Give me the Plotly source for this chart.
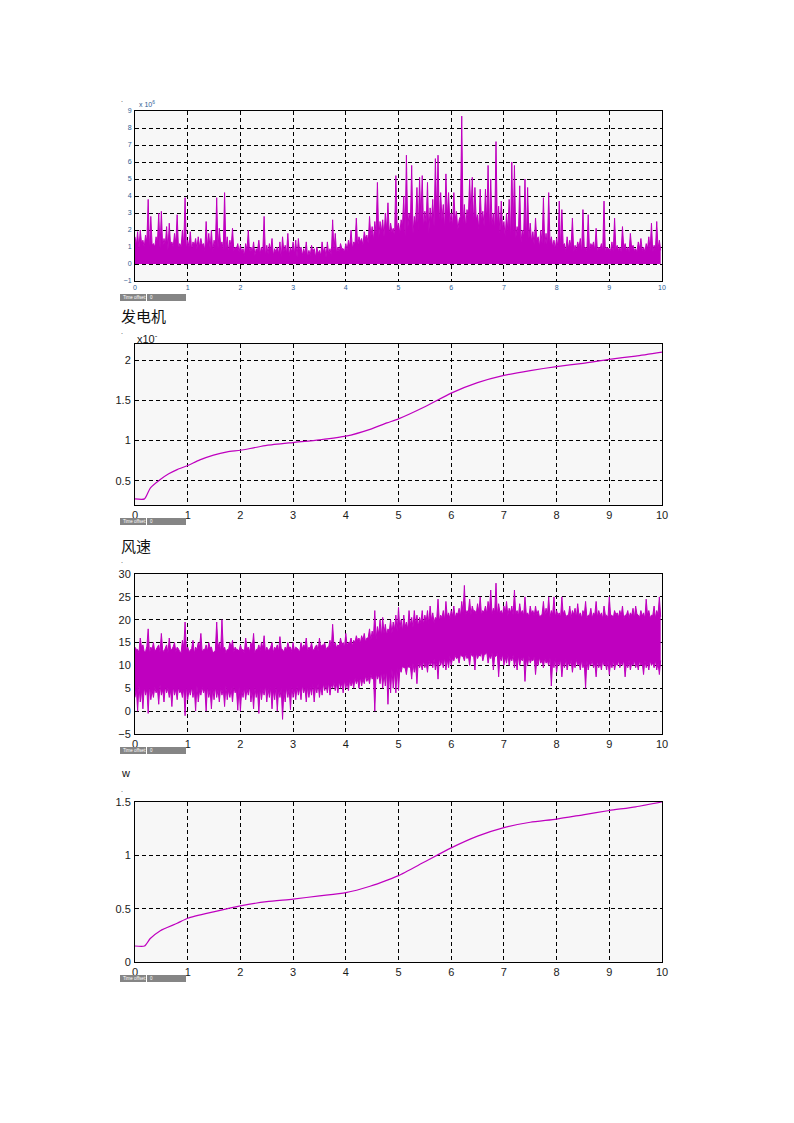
import numpy as np
import plotly.graph_objects as go

W, H = 794, 1123
MAGENTA = "#BF00BF"
PLOT_BG = "#F7F7F7"
TICK_BLUE = "#2A5D95"
TEXT = "#1A1A1A"

# power: spike peaks and the solid band level between them, one pair every 0.05 s
power_peaks = [
    1.6, 1.9, 2.0, 1.4, 1.7, 3.8, 2.8, 1.2, 1.6, 3.0, 3.1, 1.5, 2.2, 2.4, 1.3, 1.8, 2.9, 1.2, 2.0, 3.9,
    1.4, 1.9, 1.3, 1.5, 1.6, 1.5, 1.2, 2.5, 1.8, 2.0, 1.4, 3.9, 2.1, 1.3, 4.2, 1.6, 1.4, 2.1, 1.0, 1.2,
    1.1, 0.9, 1.2, 2.0, 1.0, 1.3, 0.9, 1.4, 1.0, 2.8, 1.1, 1.2, 1.5, 0.9, 1.0, 1.3, 1.6, 1.1, 1.8, 1.0,
    1.3, 1.4, 1.5, 1.0, 0.9, 1.3, 0.8, 1.1, 0.9, 1.0, 0.8, 1.3, 1.0, 1.3, 0.9, 2.6, 1.8, 1.0, 1.2, 0.9,
    1.2, 1.4, 2.0, 1.3, 2.7, 1.6, 1.5, 1.9, 1.7, 2.8, 2.2, 2.5, 4.8, 2.5, 2.6, 3.0, 3.6, 2.4, 2.1, 5.2,
    2.4, 2.6, 4.0, 6.4, 3.0, 5.8, 2.8, 4.5, 5.1, 5.2, 3.1, 4.8, 3.3, 3.8, 6.2, 6.4, 4.2, 3.5, 5.3, 4.2,
    3.0, 4.2, 3.1, 2.6, 8.7, 3.5, 3.2, 5.0, 5.1, 4.5, 2.9, 4.4, 3.1, 4.4, 5.8, 5.0, 3.0, 7.2, 3.4, 3.7,
    2.5, 3.0, 3.8, 6.0, 5.8, 2.2, 4.6, 2.0, 5.0, 4.5, 2.4, 1.9, 2.7, 1.6, 2.0, 3.9, 1.8, 4.2, 1.6, 1.4,
    1.5, 3.7, 3.2, 1.2, 1.6, 1.4, 2.7, 1.1, 1.3, 1.5, 3.2, 1.0, 2.9, 1.2, 1.3, 2.1, 1.0, 1.2, 3.7, 1.0,
    0.9, 1.3, 2.7, 1.1, 1.0, 2.2, 1.2, 1.0, 1.8, 1.1, 0.9, 1.3, 1.5, 1.0, 1.2, 1.6, 2.4, 1.1, 2.5, 1.4,
]
power_band = [
    1.1, 0.9, 1.2, 1.0, 1.3, 0.8, 1.1, 1.0, 1.2, 0.9, 1.0, 1.1, 0.8, 1.1, 1.0, 1.2, 0.9, 1.0, 1.1, 0.9,
    1.0, 0.8, 1.1, 0.9, 1.0, 1.1, 0.8, 1.0, 0.9, 0.7, 1.0, 0.9, 1.1, 0.8, 0.9, 0.7, 1.0, 0.8, 0.9, 0.7,
    0.7, 0.5, 0.8, 0.6, 0.7, 0.5, 0.8, 0.6, 0.7, 0.5, 0.6, 0.8, 0.5, 0.7, 0.6, 0.4, 0.7, 0.6, 0.5, 0.7,
    0.6, 0.4, 0.7, 0.5, 0.6, 0.4, 0.5, 0.7, 0.4, 0.6, 0.5, 0.7, 0.4, 0.6, 0.5, 0.8, 0.6, 0.7, 0.9, 0.7,
    0.8, 1.0, 0.9, 1.2, 1.0, 1.3, 1.1, 1.5, 1.2, 1.6, 1.4, 1.8, 1.5, 1.9, 1.6, 2.0, 1.7, 1.9, 1.6, 2.1,
    1.8, 2.2, 1.6, 2.0, 2.4, 1.8, 2.3, 1.9, 2.6, 2.1, 2.4, 1.8, 2.5, 2.2, 2.8, 2.3, 2.6, 2.0, 2.7, 2.4,
    2.2, 2.6, 2.0, 2.8, 2.4, 2.1, 2.7, 2.9, 2.3, 2.6, 2.0, 2.5, 2.2, 2.4, 1.9, 2.3, 2.0, 2.2, 1.8, 2.0,
    1.6, 1.9, 1.4, 1.8, 1.5, 1.7, 1.3, 1.6, 1.2, 1.5, 1.3, 1.1, 1.4, 1.0, 1.2, 1.1, 0.9, 1.2, 1.0, 0.9,
    1.0, 0.8, 1.1, 0.7, 0.9, 1.0, 0.7, 0.8, 1.0, 0.7, 0.9, 0.8, 0.7, 1.0, 0.8, 0.7, 0.9, 0.8, 0.7, 0.9,
    0.8, 0.7, 0.9, 0.8, 0.7, 0.9, 0.8, 0.7, 0.9, 0.8, 0.7, 0.9, 0.8, 0.7, 0.9, 0.8, 0.7, 0.8, 0.9, 0.8,
]

# generator curve
gen_t = [0, 0.18, 0.29, 0.48, 0.64, 0.8, 1.0, 1.23, 1.49, 1.75, 2.0, 2.25, 2.5, 3.0, 3.5, 4.0, 4.46, 4.78,
         5.0, 5.5, 6.0, 6.5, 7.0, 7.5, 8.0, 8.5, 9.0, 9.5, 10.0]
gen_v = [0.276, 0.276, 0.41, 0.516, 0.587, 0.64, 0.69, 0.76, 0.82, 0.86, 0.88, 0.91, 0.94, 0.976, 1.01, 1.055,
         1.14, 1.22, 1.27, 1.42, 1.59, 1.72, 1.81, 1.87, 1.92, 1.96, 2.01, 2.05, 2.10]

# wind speed: outer excursions and solid band edges, one value every 0.05 s
wind_highs = [
    14, 13.5, 16, 14.5, 13, 18, 14, 15, 13.5, 14.5, 17, 13, 14.5, 16, 13.5, 15, 14, 13, 15.5, 19.5,
    14, 13.5, 15.5, 14, 15, 17, 13.5, 14.5, 15, 14, 13, 19.5, 15, 20, 14, 13.5, 15, 15.5, 14, 13.5,
    14.5, 13.5, 16, 14, 15, 17, 13.5, 14.5, 15, 16.5, 14, 13.5, 15, 14, 14.5, 16.3, 13.5, 14, 15, 14,
    15, 14, 13.5, 15, 14.5, 16, 14, 15, 13.5, 14.5, 16, 14.5, 15, 14, 15.5, 19, 15, 14.5, 16, 15,
    17, 15, 16, 15.5, 16.5, 16, 16.5, 17, 16, 18, 17.5, 22, 18.5, 20, 20.5, 19, 18, 20, 19.5, 21,
    22.7, 20, 21, 19.5, 22, 20.5, 22, 21, 20.5, 22, 21, 22, 23, 21.5, 20.5, 24.5, 21, 22, 24, 21.5,
    22, 23, 21.5, 22.5, 24, 27.5, 22, 24.5, 23, 22, 23.5, 25, 22, 23, 24, 26.5, 22.5, 28, 23.5, 22,
    23, 24, 22.5, 23, 26.5, 22, 23.5, 22, 25, 21.5, 23, 22, 23, 22, 21, 24, 22.5, 25, 22, 25,
    22, 21.5, 25, 22, 21, 23, 22, 22.5, 23.5, 21.5, 22, 24, 21, 22.5, 21.5, 24, 22, 21.5, 23, 21,
    25, 21, 22, 21.5, 22, 23, 21, 22, 21.5, 22.5, 23, 21, 22, 21.5, 24.5, 22, 21, 23, 22, 25,
]
wind_lows = [
    3, 0, 2, 0.5, 3.5, -0.5, 2.5, 3, 4, 1.5, 3.5, 2, 4, 3, 1, 3.5, 2.5, 4, 3, -1,
    2.5, 3.5, 3, 0, 2, 3.5, 4, 0, 3, 0.5, 2.5, 3, 2, 3.5, 1, 2.5, 3, 2, 4, 0.2,
    0, 3, 2.5, 3.5, 2, 0.5, 3, -0.5, 2.5, 3.5, 2, 3, 0.5, 2.5, 0, 3, -1.8, 2, 3, 0.3,
    3, 2.5, 3.5, 2.5, 4, 2, 3, 3.5, 2, 4, 3, 3.5, 4.5, 4, 3.5, 5, 4.5, 4, 5, 4,
    5, 4.5, 5.5, 5, 6, 5, 5.5, 6, 6.5, 6, 7, 0, 7, 6, 5, 5.5, 1.5, 4, 5, 4,
    4.5, 8.5, 9.5, 8, 9.5, 7, 8.5, 6, 9.5, 9, 9.5, 8.5, 10, 9.5, 9, 7, 10, 9.5, 9, 9.5,
    10, 11, 11.5, 10.5, 12, 11, 11.5, 10, 12, 9, 11.5, 12, 11, 12.5, 10.5, 11.5, 9, 12, 7.5, 11,
    10, 10.5, 10, 11, 9.5, 9, 10, 11, 6.5, 10, 10.5, 11, 8, 10, 10.5, 9.5, 10.5, 10, 5.5, 9.5,
    8.5, 10, 7.5, 9.5, 9, 10, 8.5, 9.5, 10, 9, 9.5, 5, 9, 10, 9.5, 7.5, 9.5, 9, 10, 9,
    8, 9.5, 9, 10, 9.5, 10, 7.5, 9.5, 9, 10, 9.5, 9, 10, 8, 9.5, 9, 10, 9.5, 9, 8,
]
wind_band_top = [
    13.5, 12.8, 13.9, 13.0, 14.2, 12.6, 13.6, 13.1, 14.0, 12.9, 13.4, 13.8, 12.7, 13.5, 14.1, 13.0, 13.6, 12.8, 13.9, 13.2,
    13.0, 13.7, 12.6, 13.4, 14.0, 12.9, 13.5, 13.1, 13.8, 12.7, 13.3, 14.0, 13.0, 13.6, 12.8, 13.4, 13.9, 12.9, 13.5, 13.1,
    13.4, 12.8, 13.7, 13.0, 13.9, 12.7, 13.5, 13.2, 13.8, 12.9, 13.3, 14.0, 12.8, 13.6, 13.1, 13.7, 12.9, 13.4, 13.9, 13.0,
    13.2, 13.8, 12.9, 13.6, 14.1, 13.0, 13.7, 13.3, 14.2, 13.1, 13.8, 14.3, 13.4, 14.0, 13.6, 14.4, 13.8, 14.2, 14.6, 14.0,
    14.4, 14.9, 14.2, 15.0, 15.4, 14.8, 15.6, 15.1, 16.0, 15.5, 16.3, 15.8, 16.8, 16.2, 17.0, 16.6, 17.4, 17.0, 17.8, 17.3,
    18.0, 17.5, 18.4, 17.9, 18.8, 18.3, 19.0, 18.5, 19.3, 18.9, 19.6, 19.1, 19.9, 19.4, 20.1, 19.7, 20.4, 19.9, 20.6, 20.2,
    20.8, 20.3, 21.2, 20.7, 21.5, 20.9, 21.6, 21.1, 21.8, 21.2, 21.6, 21.0, 21.7, 21.3, 21.9, 21.2, 21.6, 21.0, 21.5, 21.1,
    21.4, 20.9, 21.5, 21.0, 21.3, 20.8, 21.4, 20.9, 21.2, 20.7, 21.3, 20.8, 21.1, 20.6, 21.2, 20.7, 21.0, 20.5, 21.1, 20.6,
    21.0, 20.5, 21.2, 20.6, 20.9, 20.4, 21.1, 20.5, 20.8, 20.3, 21.0, 20.4, 20.9, 20.3, 21.1, 20.5, 20.8, 20.2, 21.0, 20.4,
    20.9, 20.3, 21.1, 20.5, 20.8, 20.2, 21.0, 20.4, 20.9, 20.3, 21.2, 20.5, 20.8, 20.2, 21.0, 20.4, 20.9, 20.3, 21.1, 20.6,
]
wind_band_bottom = [
    5.0, 5.6, 4.6, 5.3, 4.8, 5.7, 4.5, 5.2, 4.9, 5.8, 4.7, 5.4, 5.0, 4.6, 5.5, 4.8, 5.3, 4.5, 5.1, 5.6,
    4.7, 5.3, 4.9, 5.6, 4.5, 5.2, 4.8, 5.5, 4.6, 5.1, 5.4, 4.7, 5.2, 4.9, 5.6, 4.6, 5.0, 5.4, 4.8, 5.3,
    4.6, 5.2, 4.9, 5.5, 4.7, 5.3, 4.5, 5.1, 4.8, 5.6, 4.9, 5.2, 4.6, 5.4, 4.8, 5.0, 4.5, 5.3, 4.9, 5.5,
    4.9, 5.4, 5.1, 5.7, 5.0, 5.5, 5.2, 5.9, 5.4, 6.0, 5.5, 6.1, 5.7, 6.3, 5.8, 6.4, 6.0, 6.6, 6.2, 6.8,
    6.4, 7.0, 6.6, 7.2, 6.9, 7.5, 7.1, 7.8, 7.4, 8.1, 7.7, 8.4, 8.0, 8.7, 8.3, 9.0, 8.6, 9.3, 8.9, 9.6,
    9.2, 9.9, 9.5, 10.2, 9.8, 10.5, 10.1, 10.8, 10.4, 11.0, 10.6, 11.2, 10.8, 11.4, 11.0, 11.6, 11.2, 11.8, 11.4, 12.0,
    11.6, 12.2, 11.8, 12.4, 12.0, 12.6, 12.1, 12.7, 12.2, 12.8, 12.3, 12.9, 12.2, 12.8, 12.1, 12.7, 12.0, 12.6, 11.9, 12.5,
    11.8, 12.4, 11.7, 12.3, 11.6, 12.2, 11.5, 12.1, 11.4, 12.0, 11.3, 11.9, 11.2, 11.8, 11.1, 11.7, 11.0, 11.6, 10.9, 11.5,
    10.8, 11.4, 10.7, 11.3, 10.6, 11.2, 10.7, 11.3, 10.6, 11.2, 10.5, 11.1, 10.6, 11.2, 10.5, 11.1, 10.6, 11.2, 10.5, 11.1,
    10.6, 11.2, 10.5, 11.1, 10.6, 11.2, 10.5, 11.1, 10.6, 11.2, 10.5, 11.1, 10.6, 11.2, 10.5, 11.1, 10.6, 11.2, 10.5, 11.1,
]

# rotor speed w
w_t = [0, 0.18, 0.29, 0.48, 0.8, 1.0, 1.49, 2.0, 2.5, 3.0, 3.5, 4.0, 4.46, 4.8,
       5.0, 5.5, 6.0, 6.5, 7.0, 7.5, 8.0, 8.5, 9.0, 9.5, 10.0]
w_v = [0.15, 0.15, 0.22, 0.294, 0.363, 0.41, 0.47, 0.526, 0.566, 0.59, 0.62, 0.65, 0.71, 0.77,
       0.81, 0.94, 1.07, 1.18, 1.26, 1.31, 1.34, 1.38, 1.42, 1.455, 1.50]


def interleave(outer, inner, step=0.05):
    t_out = np.arange(len(outer)) * step
    t = np.column_stack([t_out, t_out + step / 2]).ravel()
    v = np.column_stack([outer, inner]).ravel()
    return t, v


def px(x):
    return x / W


def py(y):
    return 1 - y / H


# pixel boxes of the four plot areas: (top, bottom)
panels = [(111, 281), (344, 505), (574, 734), (802, 962)]
X0, X1 = 135, 662

fig = go.Figure()
thin = dict(color=MAGENTA, width=1)

t, v = interleave(power_peaks, power_band)
fig.add_scatter(x=t, y=v, mode="lines", line=thin, fill="tozeroy", fillcolor=MAGENTA, xaxis="x", yaxis="y")

fig.add_scatter(x=gen_t, y=gen_v, mode="lines", line=dict(color=MAGENTA, width=1.2, shape="spline", smoothing=0.6),
                xaxis="x2", yaxis="y2")

t, v = interleave(wind_lows, wind_band_bottom)
fig.add_scatter(x=t, y=v, mode="lines", line=thin, xaxis="x3", yaxis="y3")
t, v = interleave(wind_highs, wind_band_top)
fig.add_scatter(x=t, y=v, mode="lines", line=thin, fill="tonexty", fillcolor=MAGENTA, xaxis="x3", yaxis="y3")

fig.add_scatter(x=w_t, y=w_v, mode="lines", line=dict(color=MAGENTA, width=1.2, shape="spline", smoothing=0.6),
                xaxis="x4", yaxis="y4")

yspecs = [
    dict(range=[-1, 9], dtick=1, tick0=-1),
    dict(range=[0.2, 2.2], tickvals=[0.5, 1, 1.5, 2], ticktext=["0.5", "1", "1.5", "2"]),
    dict(range=[-5, 30], dtick=5, tick0=-5),
    dict(range=[0, 1.5], tickvals=[0, 0.5, 1, 1.5], ticktext=["0", "0.5", "1", "1.5"]),
]

axis_common = dict(
    showline=True, mirror=True, linecolor="black", linewidth=1,
    showgrid=True, gridcolor="black", gridwidth=1, griddash="4px,3px",
    zeroline=False, ticks="", fixedrange=True, automargin=False,
)

layout = {}
for i, ((top, bottom), ys) in enumerate(zip(panels, yspecs)):
    n = "" if i == 0 else str(i + 1)
    small = i == 0
    tfont = dict(size=7 if small else 11, color=TICK_BLUE if small else TEXT)
    layout["xaxis" + n] = dict(
        axis_common, domain=[px(X0), px(X1)], range=[0, 10], dtick=1, tick0=0,
        anchor="y" + n, tickfont=tfont, ticklabelstandoff=0,
    )
    layout["yaxis" + n] = dict(
        axis_common, domain=[py(bottom), py(top)], anchor="x" + n, tickfont=tfont,
        ticklabelstandoff=1, **ys,
    )

fig.update_layout(
    **layout,
    width=W, height=H,
    margin=dict(l=0, r=0, t=0, b=0, pad=0),
    paper_bgcolor="white",
    plot_bgcolor=PLOT_BG,
    showlegend=False,
    font=dict(family="Liberation Sans, Arial, sans-serif", color=TEXT),
)

annotations = [
    dict(x=px(137), y=py(104), text="x 10<sup>6</sup>", font=dict(size=7, color=TICK_BLUE)),
    dict(x=px(135), y=py(338), text="x10<sup>-</sup>", font=dict(size=11, color=TEXT)),
    dict(x=px(119), y=py(315), text="发电机", font=dict(size=15, family="Noto Sans CJK SC", color="#111")),
    dict(x=px(119), y=py(545), text="风速", font=dict(size=15, family="Noto Sans CJK SC", color="#111")),
    dict(x=px(119), y=py(773), text="w", font=dict(size=11, color="#111")),
]
for dot_y in [99, 331, 561, 789]:
    annotations.append(dict(x=px(119), y=py(dot_y), text=".", font=dict(size=7, color="#333")))

shapes = []
for top, bottom in panels:
    by0, by1 = bottom + 13, bottom + 20
    for bx0, bx1, label in [(120, 146, "Time offset:"), (147, 186, "0")]:
        shapes.append(dict(type="rect", xref="paper", yref="paper", x0=px(bx0), x1=px(bx1),
                           y0=py(by1), y1=py(by0), fillcolor="#858585", line=dict(width=0)))
        annotations.append(dict(x=px(bx0 + 1), y=py((by0 + by1) / 2), text=label,
                                font=dict(size=4.5, color="white")))

for a in annotations:
    a.setdefault("xref", "paper")
    a.setdefault("yref", "paper")
    a.setdefault("xanchor", "left")
    a.setdefault("yanchor", "middle")
    a.setdefault("showarrow", False)

fig.update_layout(annotations=annotations, shapes=shapes)

# page body has a default 8px margin; drop it so the figure sits at the window origin
fig.write_html("out.html", config={"displayModeBar": False},
               post_script="document.body.style.margin='0';")
